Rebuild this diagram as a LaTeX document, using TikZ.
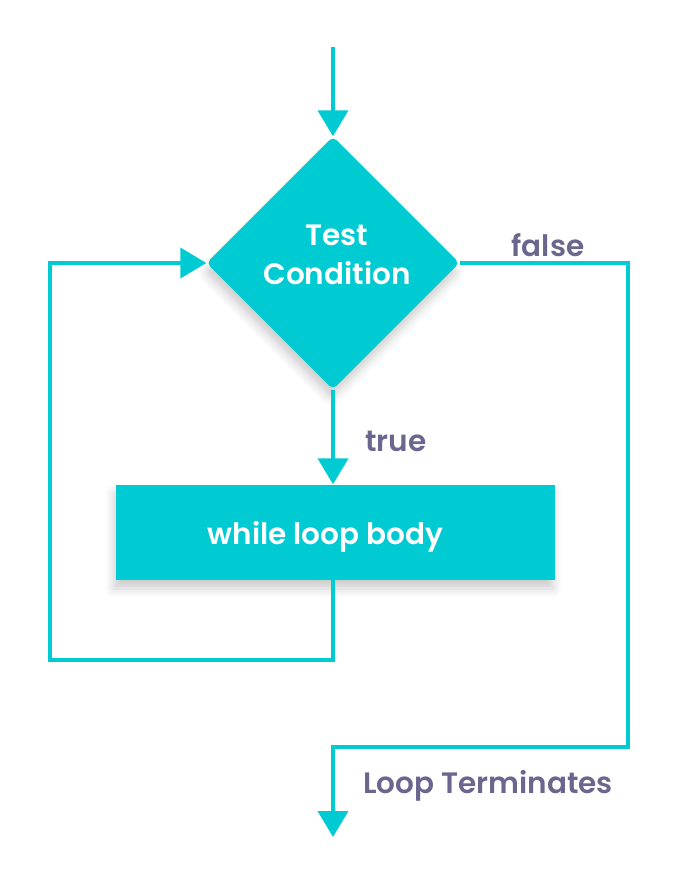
\documentclass[tikz,border=0pt]{standalone}
\usepackage{fontspec}
\setmainfont{Poppins}[BoldFont={Poppins SemiBold}]
\usetikzlibrary{shapes.geometric,arrows.meta,shadows.blur}
\definecolor{teal}{HTML}{00CBD3}
\definecolor{labelc}{HTML}{6A668E}
\tikzset{
  conn/.style={draw=teal,line width=4pt},
  arr/.style={conn,-{Triangle[length=26pt,width=30pt]}},
  lbl/.style={text=labelc,font=\fontsize{29.5}{32}\selectfont\bfseries,inner sep=0pt},
  shp/.style={fill=teal,text=white,font=\fontsize{29.5}{39}\selectfont\bfseries,align=center,
    blur shadow={shadow xshift=-2pt,shadow yshift=-9pt,shadow opacity=20,shadow blur radius=9pt}},
}
\begin{document}
\begin{tikzpicture}[x=1pt,y=-1pt]
\useasboundingbox (0,0) rectangle (674,886);
\coordinate (start) at (333,47);
\node[shp,diamond,minimum width=253pt,minimum height=253pt,inner sep=0pt,rounded corners=5pt] (cond) at (333,263) {\hspace*{8pt}Test\\\hspace*{8pt}Condition\\[-22pt]\mbox{}};
\node[shp,rectangle,minimum width=439pt,minimum height=95pt,inner sep=0pt] (body) at (335.5,532) {\raisebox{0pt}[\dimexpr\height+10pt]{while loop body}\kern20pt};
\coordinate (bl) at (333,660);
\coordinate (lb) at (50,660);
\coordinate (rc) at (628,747);
\coordinate (ec) at (333,747);
\coordinate (end) at (333,837);
\draw[arr] (start) -- (cond.north);
\draw[arr] (cond.south) -- (cond.south |- body.north);
\draw[arr] (cond.south |- body.south) -- (bl) -- (lb) |- (cond.west);
\draw[arr] (cond.east) -| (rc) -- (ec) -- (end);
\node[lbl] (lfalse) at (548,245) {false};
\node[lbl] (ltrue) at (396,441) {true};
\node[lbl] (lterm) at (488,786) {Loop Terminates};
\end{tikzpicture}
\end{document}
